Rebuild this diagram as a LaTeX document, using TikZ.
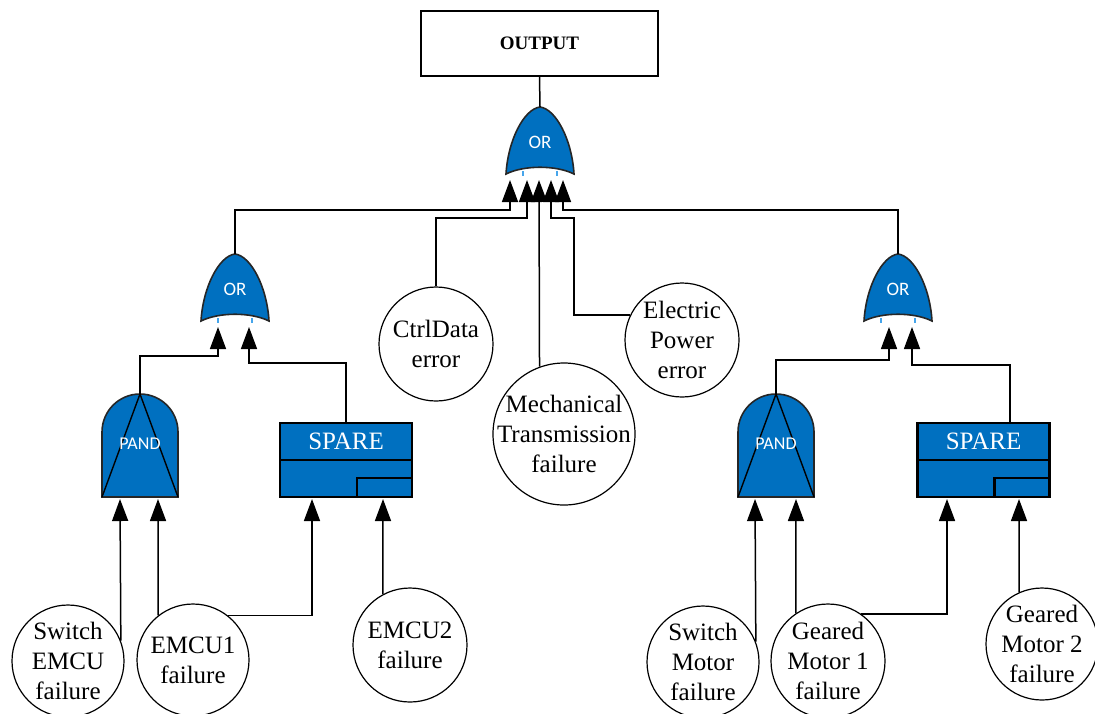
\documentclass[tikz,border=0pt]{standalone}
\usepackage{fontspec}
\setmainfont{Liberation Serif}
\newfontfamily\gatefont{Carlito}
\usetikzlibrary{arrows.meta,calc}
\definecolor{ftblue}{RGB}{0,112,192}
\definecolor{pinblue}{RGB}{70,165,235}
\tikzset{
  gateline/.style={draw=black!85,line width=0.8pt},
  gatetext/.style={text=white,inner sep=0pt},
  orgate/.pic={
    \path[fill=ftblue,gateline] (-34,67) .. controls (-32,33) and (-16,2) .. (0,0)
      .. controls (16,2) and (32,33) .. (34,67)
      .. controls (16,58) and (-16,58) .. (-34,67) -- cycle;
    \draw[pinblue,line width=1pt] (-17,64) -- (-17,69);
    \draw[pinblue,line width=1pt] (17,64) -- (17,69);
    \node[gatetext,font=\gatefont\fontsize{9.5}{11}\selectfont] (-lbl) at (0,35) {OR};
    \coordinate (-top) at (0,0);
  },
  pandgate/.pic={
    \path[fill=ftblue,gateline] (-38,103) -- (-38,38)
      .. controls (-38,17) and (-21,0) .. (0,0)
      .. controls (21,0) and (38,17) .. (38,38) -- (38,103) -- cycle;
    \draw[line width=0.7pt] (-38,103) -- (0,0) -- (38,103);
    \node[gatetext,font=\gatefont\fontsize{9}{10}\selectfont] (-lbl) at (0,50) {PAND};
    \coordinate (-top) at (0,0);
  },
  sparegate/.pic={
    \path[fill=ftblue,draw=black,line width=1.1pt] (-66,0) rectangle (66,74);
    \draw[line width=1.1pt] (-66,37) -- (66,37);
    \draw[line width=1.1pt] (11,55) rectangle (66,74);
    \node[gatetext,font=\fontsize{12.5}{15}\selectfont] (-lbl) at (0,18) {SPARE};
    \coordinate (-top) at (0,0);
  },
  event/.style={circle,draw,line width=0.6pt,inner sep=0pt},
  lbl/.style={align=center,inner sep=0pt,font=\fontsize{12.5}{15}\selectfont},
  arr/.style={-{Triangle[length=11pt,width=8pt]},line width=0.75pt},
}
\begin{document}
\begin{tikzpicture}[x=0.5pt,y=-0.5pt,line width=0.75pt]
\useasboundingbox (0,0) rectangle (1095,713);

% top event
\node[draw,line width=1pt,minimum width=118.5pt,minimum height=32.5pt,
      font=\bfseries\fontsize{9.5}{11}\selectfont] (out) at (539.5,43.5) {OUTPUT};

% gates
\pic (g0) at (540,107) {orgate};
\pic (g1) at (235,254) {orgate};
\pic (g2) at (898,254) {orgate};
\pic (p1) at (140,394) {pandgate};
\pic (p2) at (776,394) {pandgate};
\pic (s1) at (346,423) {sparegate};
\pic (s2) at (983.5,423) {sparegate};

% basic events
\node[event,minimum size=56pt,label={[lbl]center:Switch\\EMCU\\failure}] (se) at (68,661) {};
\node[event,minimum size=56pt,label={[lbl]center:EMCU1\\failure}] (e1) at (193,660) {};
\node[event,minimum size=57pt,label={[lbl]center:EMCU2\\failure}] (e2) at (410,645) {};
\node[event,minimum size=57pt,label={[lbl]center:CtrlData\\error}] (cd) at (436,344) {};
\node[event,minimum size=71pt,label={[lbl]center:Mechanical\\Transmission\\failure}] (mt) at (564,434) {};
\node[event,minimum size=57pt,label={[lbl]center:Electric\\Power\\error}] (ep) at (682,340) {};
\node[event,minimum size=56pt,label={[lbl]center:Switch\\Motor\\failure}] (sm) at (703,662) {};
\node[event,minimum size=57pt,label={[lbl]center:Geared\\Motor 1\\failure}] (gm1) at (828,661) {};
\node[event,minimum size=56pt,label={[lbl]center:Geared\\Motor 2\\failure}] (gm2) at (1042,644) {};

% input points
\coordinate (g0i1) at (510,180);
\coordinate (g0i2) at (527,180);
\coordinate (g0i3) at (539,180);
\coordinate (g0i4) at (551,180);
\coordinate (g0i5) at (563,180);
\coordinate (g1i1) at (218,327);
\coordinate (g1i2) at (249,327);
\coordinate (g2i1) at (889,327);
\coordinate (g2i2) at (912,327);
\coordinate (p1i1) at (120,499);
\coordinate (p1i2) at (158,499);
\coordinate (s1i1) at (312,499);
\coordinate (s1i2) at (383,499);
\coordinate (p2i1) at (755,499);
\coordinate (p2i2) at (796,499);
\coordinate (s2i1) at (947,499);
\coordinate (s2i2) at (1019,499);
\coordinate (s2out) at ($(s2-top)+(26.5,0)$);

% connectors
\draw (out.south) -- (g0-top);
\draw[arr] (g1-top) |- (g0i1 |- 0,210) -- (g0i1);
\draw[arr] (cd.north) |- (g0i2 |- 0,218) -- (g0i2);
\draw[arr] (mt.110.6) -- (g0i3);
\draw[arr] (ep.154) -| (574,218) -- (g0i4 |- 0,218) -- (g0i4);
\draw[arr] (g2-top) |- (g0i5 |- 0,210) -- (g0i5);

\draw[arr] (p1-top) |- (g1i1 |- 0,356) -- (g1i1);
\draw[arr] (s1-top) |- (g1i2 |- 0,363) -- (g1i2);
\draw[arr] (p2-top) |- (g2i1 |- 0,360) -- (g2i1);
\draw[arr] (s2out) |- (g2i2 |- 0,365) -- (g2i2);

\draw[arr] (se.21.8) -- (p1i1);
\draw[arr] (e1.128.7) -- (p1i2);
\draw[arr] (e1.52) -| (s1i1);
\draw[arr] (e2.118.3) -- (s1i2);
\draw[arr] (sm.21.8) -- (p2i1);
\draw[arr] (gm1.124.1) -- (p2i2);
\draw[arr] (gm1.55) -| (s2i1);
\draw[arr] (gm2.114.2) -- (s2i2);
\end{tikzpicture}
\end{document}
